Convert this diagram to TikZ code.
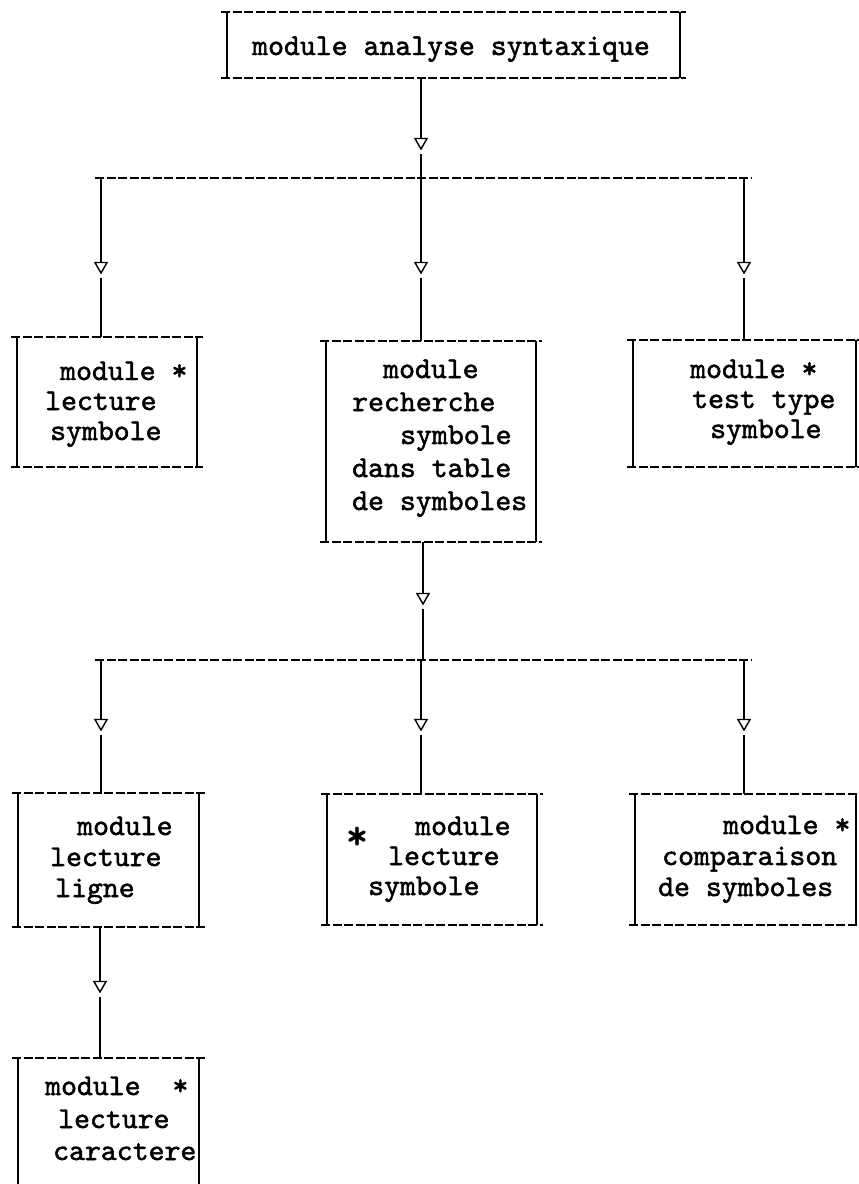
\documentclass[tikz,border=0pt]{standalone}
\usepackage{fontspec}
\newfontfamily\twfam{lmmono10-regular.otf}[FakeBold=1.6]
\usetikzlibrary{shapes.geometric,fit}
\newcommand\twfont{\twfam\fontsize{30.3}{34}\selectfont}
\tikzset{
  side/.style={line width=1.6pt},
  dashline/.style={line width=2pt, dash pattern=on 9pt off 2.5pt},
  conn/.style={line width=1.6pt},
  tri/.style={regular polygon, regular polygon sides=3, shape border rotate=180, draw, line width=1.4pt, fill=white, minimum size=14pt, inner sep=0pt},
  tw/.style={font=\twfont, inner sep=0pt, anchor=base west},
  frm/.style={inner sep=0pt, outer sep=0pt},
}
\newcommand\modframe[5]{%
  \node[frm, fit={(#2,#3) (#4,#5)}] (#1) {};
  \draw[side] (#1.north west) -- (#1.south west) (#1.north east) -- (#1.south east);
  \draw[dashline] ([xshift=-6pt]#1.north west) -- ([xshift=6pt]#1.north east);
  \draw[dashline] ([xshift=-6pt]#1.south west) -- ([xshift=6pt]#1.south east);
}
\begin{document}
\begin{tikzpicture}[x=1pt,y=-1pt]
\useasboundingbox (0,0) rectangle (859,1184);
\fill[white] (0,0) rectangle (859,1184);

% top box
\modframe{top}{227}{12}{680}{78}
\node[tw] (t0) at (252,55) {module analyse syntaxique};

% row 1
\modframe{ra}{17}{337}{197}{467}
\node[tw] (ra1) at (60,380) {module *};
\node[tw] (ra2) at (45,410) {lecture};
\node[tw] (ra3) at (50,440) {symbole};

\modframe{rb}{326}{341}{536}{542}
\node[tw] (rb1) at (383,378) {module};
\node[tw] (rb2) at (352,411) {recherche};
\node[tw] (rb3) at (400,444) {symbole};
\node[tw] (rb4) at (352,477) {dans table};
\node[tw] (rb5) at (352,510) {de symboles};

\modframe{rc}{633}{340}{856}{467}
\node[tw] (rc1) at (690,378) {module *};
\node[tw] (rc2) at (692,408) {test type};
\node[tw] (rc3) at (710,438) {symbole};

% row 2
\modframe{sa}{18}{793}{199}{927}
\node[tw] (sa1) at (77,835) {module};
\node[tw] (sa2) at (50,866) {lecture};
\node[tw] (sa3) at (55,897) {ligne};

\modframe{sb}{327}{794}{537}{925}
\node[font=\twfont, inner sep=0pt, scale=1.4] (sbs) at (357,838) {*};
\node[tw] (sb1) at (415,835) {module};
\node[tw] (sb2) at (388,865) {lecture};
\node[tw] (sb3) at (368,895) {symbole};

\modframe{sc}{635}{794}{856}{925}
\node[tw] (sc1) at (723,834) {module *};
\node[tw] (sc2) at (662,865) {comparaison};
\node[tw] (sc3) at (658,896) {de symboles};

% bottom box (cut off at the page edge)
\node[frm, fit={(18,1058) (199,1184)}] (ua) {};
\draw[side] (ua.north west) -- (ua.south west) (ua.north east) -- (ua.south east);
\draw[dashline] ([xshift=-6pt]ua.north west) -- ([xshift=6pt]ua.north east);
\node[tw] (ua1) at (45,1095) {module\ \ *};
\node[tw] (ua2) at (58,1128) {lecture};
\node[tw] (ua3) at (53,1160) {caractere};

% connectors, level 1
\coordinate (bus1L) at (95,178);
\coordinate (bus1R) at (752,178);
\node[tri] (a0) at (421,142) {};
\draw[conn] (a0 |- top.south) -- (a0.north);
\draw[conn] ([yshift=-4pt]a0.south) -- (a0 |- bus1L);
\draw[dashline] (bus1L) -- (bus1R);

\node[tri] (b1) at (101,266) {};
\node[tri] (b2) at (421,266) {};
\node[tri] (b3) at (744,266) {};
\draw[conn] (b1 |- bus1L) -- (b1.north);
\draw[conn] ([yshift=-4pt]b1.south) -- (b1 |- ra.north);
\draw[conn] (b2 |- bus1L) -- (b2.north);
\draw[conn] ([yshift=-4pt]b2.south) -- (b2 |- rb.north);
\draw[conn] (b3 |- bus1L) -- (b3.north);
\draw[conn] ([yshift=-4pt]b3.south) -- (b3 |- rc.north);

% connectors, level 2
\coordinate (bus2L) at (95,660);
\coordinate (bus2R) at (752,660);
\node[tri] (c0) at (423,597) {};
\draw[conn] (c0 |- rb.south) -- (c0.north);
\draw[conn] ([yshift=-4pt]c0.south) -- (c0 |- bus2L);
\draw[dashline] (bus2L) -- (bus2R);

\node[tri] (d1) at (101,723) {};
\node[tri] (d2) at (421,723) {};
\node[tri] (d3) at (744,723) {};
\draw[conn] (d1 |- bus2L) -- (d1.north);
\draw[conn] ([yshift=-4pt]d1.south) -- (d1 |- sa.north);
\draw[conn] (d2 |- bus2L) -- (d2.north);
\draw[conn] ([yshift=-4pt]d2.south) -- (d2 |- sb.north);
\draw[conn] (d3 |- bus2L) -- (d3.north);
\draw[conn] ([yshift=-4pt]d3.south) -- (d3 |- sc.north);

% connector, level 3
\node[tri] (e0) at (100,985) {};
\draw[conn] (e0 |- sa.south) -- (e0.north);
\draw[conn] ([yshift=-4pt]e0.south) -- (e0 |- ua.north);
\end{tikzpicture}
\end{document}
